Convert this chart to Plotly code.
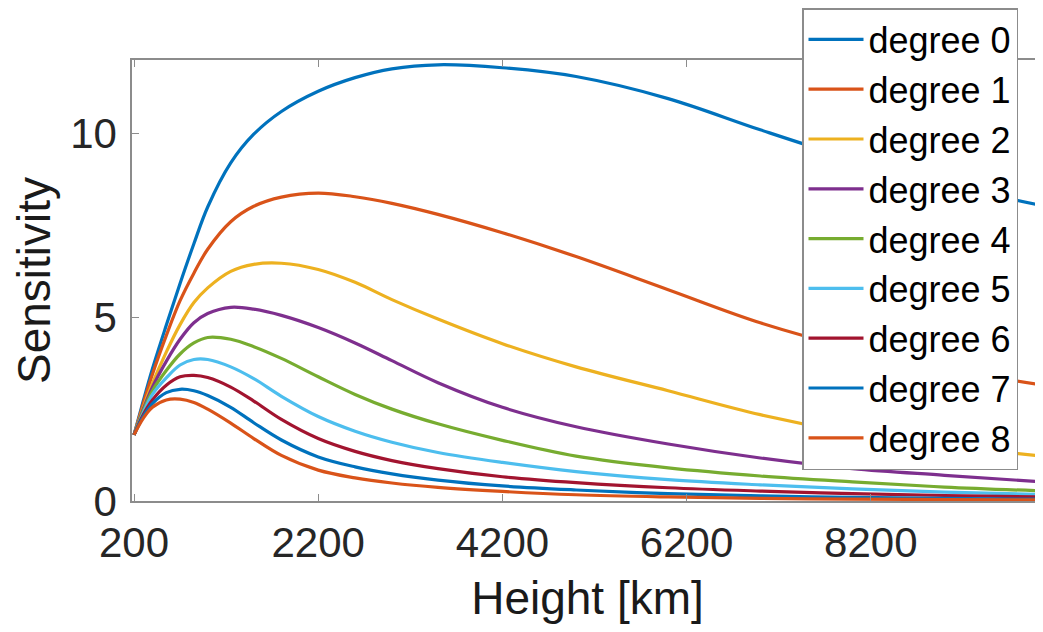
import plotly.graph_objects as go

heights = [200, 300, 400, 550, 700, 850, 1000, 1250, 1500, 1800, 2200, 2600,
           3000, 3500, 4200, 5000, 6000, 7000, 8000, 9000, 10000]

deg0 = [1.8, 2.72, 3.6, 4.78, 5.92, 7.0, 8.0, 9.2, 9.98, 10.6, 11.15, 11.52,
        11.76, 11.87, 11.79, 11.55, 10.95, 10.1, 9.3, 8.62, 8.07]
deg1 = [1.8, 2.65, 3.45, 4.5, 5.45, 6.2, 6.85, 7.6, 8.02, 8.27, 8.38, 8.28,
        8.1, 7.8, 7.3, 6.65, 5.75, 4.85, 4.15, 3.6, 3.18]
deg2 = [1.8, 2.55, 3.2, 4.05, 4.8, 5.4, 5.8, 6.25, 6.44, 6.47, 6.3, 5.95,
        5.48, 4.95, 4.28, 3.65, 3.0, 2.35, 1.85, 1.5, 1.24]
deg3 = [1.8, 2.5, 3.1, 3.8, 4.4, 4.85, 5.1, 5.27, 5.22, 5.05, 4.72, 4.3,
        3.82, 3.22, 2.55, 2.02, 1.55, 1.17, 0.88, 0.7, 0.53]
deg4 = [1.8, 2.45, 3.0, 3.55, 4.0, 4.3, 4.45, 4.4, 4.2, 3.88, 3.38, 2.9,
        2.5, 2.1, 1.65, 1.22, 0.9, 0.68, 0.52, 0.38, 0.28]
deg5 = [1.8, 2.4, 2.9, 3.35, 3.7, 3.85, 3.85, 3.65, 3.33, 2.85, 2.3, 1.9,
        1.6, 1.32, 1.05, 0.8, 0.58, 0.44, 0.33, 0.24, 0.18]
deg6 = [1.8, 2.35, 2.75, 3.15, 3.38, 3.42, 3.36, 3.1, 2.72, 2.22, 1.7, 1.35,
        1.1, 0.88, 0.66, 0.5, 0.36, 0.27, 0.2, 0.15, 0.11]
deg7 = [1.8, 2.3, 2.65, 2.95, 3.04, 3.0, 2.87, 2.55, 2.13, 1.66, 1.2, 0.93,
        0.74, 0.57, 0.41, 0.3, 0.2, 0.14, 0.1, 0.07, 0.05]
deg8 = [1.8, 2.25, 2.55, 2.75, 2.77, 2.68, 2.5, 2.12, 1.7, 1.24, 0.84, 0.63,
        0.49, 0.37, 0.26, 0.17, 0.11, 0.07, 0.05, 0.04, 0.03]

series = [deg0, deg1, deg2, deg3, deg4, deg5, deg6, deg7, deg8]
names = [f"degree {i}" for i in range(9)]
colors = ["#0072BD", "#D95319", "#EDB120", "#7E2F8E", "#77AC30",
          "#4DBEEE", "#A2142F", "#0072BD", "#D95319"]

x_ticks = [200, 2200, 4200, 6200, 8200]
y_ticks = [0, 5, 10]

FONT = "Liberation Sans, Arial, Helvetica, sans-serif"
AXC = "#8c8c8c"

# the page has an 8px body margin, so the figure is sized to the visible area
W, H = 1035, 624
L, T, B = 124, 52, 131
PW, PH = W - L, H - T - B

fig = go.Figure()
for name, vals, col in zip(names, series, colors):
    fig.add_trace(go.Scatter(x=heights, y=vals, name=name, mode="lines",
                             line=dict(color=col, width=3.2, shape="spline", smoothing=1.0)))

fig.update_layout(
    width=W, height=H,
    margin=dict(l=L, r=0, t=T, b=B, autoexpand=False),
    paper_bgcolor="white", plot_bgcolor="white",
    font=dict(family=FONT, color="#262626"),
    showlegend=True,
    legend=dict(
        xref="paper", yref="paper",
        x=(794 - L) / PW, y=(T + PH) / PH, xanchor="left", yanchor="top",
        bgcolor="white", bordercolor=AXC, borderwidth=1.5,
        font=dict(family=FONT, size=36, color="black"),
        itemwidth=55, tracegroupgap=0, maxheight=620,
    ),
    xaxis=dict(
        range=[178, 10070], tickvals=x_ticks, ticktext=[str(v) for v in x_ticks],
        showgrid=False, zeroline=False, showline=True, linecolor=AXC, linewidth=1.5,
        mirror="ticks", ticks="inside", ticklen=7, tickwidth=1.2, tickcolor=AXC,
        tickfont=dict(size=42, color="#262626"), ticklabelstandoff=4,
        title=dict(text="Height [km]", font=dict(size=46, color="#1a1a1a"), standoff=17),
    ),
    yaxis=dict(
        range=[0, 12], tickvals=y_ticks, ticktext=[str(v) for v in y_ticks],
        showgrid=False, zeroline=False, showline=True, linecolor=AXC, linewidth=1.5,
        mirror="ticks", ticks="inside", ticklen=7, tickwidth=1.2, tickcolor=AXC,
        tickfont=dict(size=42, color="#262626"), ticklabelstandoff=5,
        title=dict(text="Sensitivity", font=dict(size=46, color="#1a1a1a"), standoff=5),
    ),
)

fig.write_html("out.html")
